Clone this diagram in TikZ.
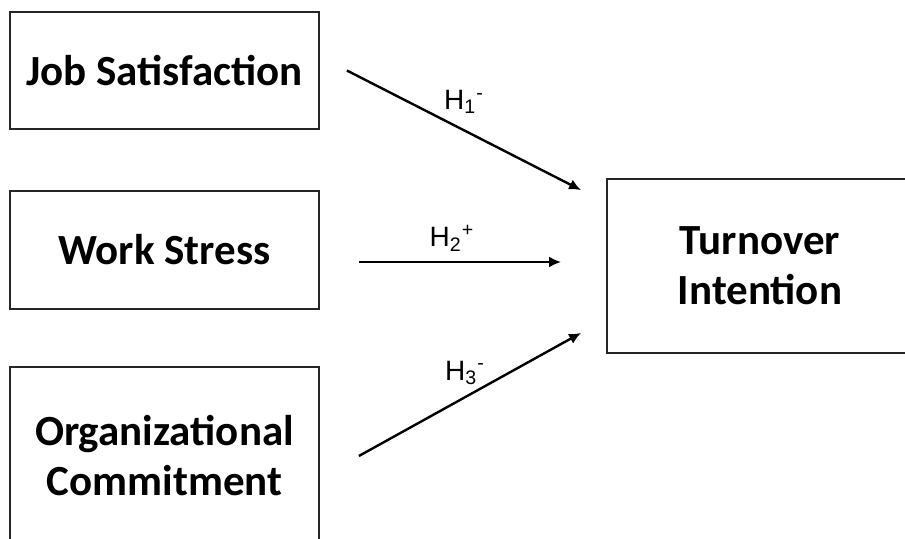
\documentclass[tikz,border=0pt]{standalone}
\usepackage{fontspec}
\setmainfont{Carlito}
\newfontfamily\hfont{Liberation Sans}
\usetikzlibrary{positioning, arrows.meta, calc}

\begin{document}
\begin{tikzpicture}[
  x=0.5pt, y=-0.5pt,
  construct/.style={draw=black!85, line width=0.9pt, minimum width=154.5pt, align=center, inner sep=0pt, font=\fontsize{21.5}{25}\selectfont\bfseries},
  hyplabel/.style={font=\hfont\fontsize{14}{16}\selectfont, inner sep=1pt},
  effect/.style={line width=1.2pt, -{Latex[length=6pt,width=5.5pt]}}
]
\useasboundingbox (0,0) rectangle (905,539);
\clip (0,0) rectangle (905,539);

% Predictors
\node[construct, minimum height=58.5pt] (jobsat) at (164.5,70.5) {Job Satisfaction};
\node[construct, minimum height=59pt] (stress) at (164.5,250) {Work Stress};
\node[construct, minimum height=89pt] (commit) at (164.5,456) {Organizational\\Commitment};

% Outcome
\node[construct, minimum width=153pt, minimum height=87pt] (turnover) at (760,266) {Turnover\\Intention};

% Hypothesised paths
\draw[effect] ([xshift=13.5pt]jobsat.east) -- ([xshift=-12.5pt, yshift=-6pt]turnover.north west);
\draw[effect] ([xshift=19.5pt, yshift=-6pt]stress.east) -- ([xshift=-22.5pt, yshift=2pt]turnover.west);
\draw[effect] ([xshift=19.5pt]commit.east) -- ([xshift=-12.5pt, yshift=10.5pt]turnover.south west);

% Path labels
\node[hyplabel] (h1) at (464,102) {H\textsubscript{1}\textsuperscript{-}};
\node[hyplabel] (h2) at (452,238) {H\textsubscript{2}\textsuperscript{+}};
\node[hyplabel] (h3) at (465,373) {H\textsubscript{3}\textsuperscript{-}};

\end{tikzpicture}
\end{document}
